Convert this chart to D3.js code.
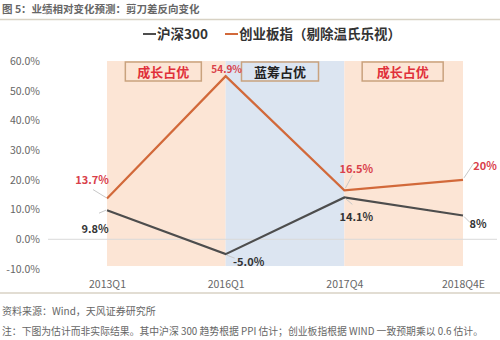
<!DOCTYPE html>
<html><head><meta charset="utf-8">
<script src="https://cdn.jsdelivr.net/npm/d3@7/dist/d3.min.js"></script>
<style>
body{margin:0;background:#fff;}
svg{font-family:"Noto Sans CJK SC","Noto Sans",sans-serif;}
</style></head>
<body>
<svg id="chart" width="500" height="340"></svg>
<script>
const categories = ["2013Q1","2016Q1","2017Q4","2018Q4E"];
const hs300 = [9.8, -5.0, 14.1, 8];
const cyb = [13.7, 54.9, 16.5, 20];
const hs300Labels = ["9.8%","-5.0%","14.1%","8%"];
const cybLabels = ["13.7%","54.9%","16.5%","20%"];
const yTicks = [-10,0,10,20,30,40,50,60];
const regionNames = ["成长占优","蓝筹占优","成长占优"];
const regionTypes = ["growth","blue","growth"];
const seriesNames = ["沪深300","创业板指（剔除温氏乐视）"];
const titleText = "图 5：业绩相对变化预测：剪刀差反向变化";
const sourceText = "资料来源：Wind，天风证券研究所";
const noteText = "注：下图为估计而非实际结果。其中沪深 300 趋势根据 PPI 估计；创业板指根据 WIND 一致预期乘以 0.6 估计。";

const svg = d3.select("#chart");
const x = d3.scalePoint().domain(categories).range([107,463]);
const y = d3.scaleLinear().domain([-10,60]).range([269,61]);
const ORANGE = "#D2693A", DARK = "#4d4d4d";

// title
svg.append("text").attr("x",2).attr("y",13).attr("font-size",10.5).attr("font-weight","bold")
  .attr("fill","#666").text(titleText);
svg.append("line").attr("x1",0).attr("x2",500).attr("y1",19.5).attr("y2",19.5)
  .attr("stroke","#d8d2c4").attr("stroke-width",1.5);

// shaded regions
const regions = regionTypes.map((t,i)=>({t, name:regionNames[i], a:categories[i], b:categories[i+1]}));
svg.append("g").selectAll("rect").data(regions).join("rect")
  .attr("x",d=>x(d.a)).attr("width",d=>x(d.b)-x(d.a))
  .attr("y",y(60)).attr("height",y(-9)-y(60))
  .attr("fill",d=>d.t==="growth"?"#FCE5D5":"#DCE5F1");

// y axis labels
const yAxis = d3.axisLeft(y).tickValues(yTicks).tickFormat(d=>d.toFixed(1)+"%").tickSize(0).tickPadding(0);
const ya = svg.append("g").attr("transform","translate(40,0)").call(yAxis);
ya.select(".domain").remove();
ya.selectAll("text").attr("font-size",10.5).attr("fill","#666").attr("font-family","'Noto Sans CJK SC',sans-serif");

// zero line
svg.append("line").attr("x1",48).attr("x2",497).attr("y1",y(0)).attr("y2",y(0))
  .attr("stroke","#d9d9d9").attr("stroke-width",1);

// x axis labels
const xAxis = d3.axisBottom(x).tickSize(0).tickPadding(0);
const xa = svg.append("g").attr("transform","translate(0,281)").call(xAxis);
xa.select(".domain").remove();
xa.selectAll("text").attr("font-size",10.5).attr("fill","#666").attr("font-family","'Noto Sans CJK SC',sans-serif");

// region boxes
const boxW = [76,77,81];
const boxShift = [-3,-5,-1];
svg.append("g").selectAll("g").data(regions).join("g").each(function(d,i){
  const cx = (x(d.a)+x(d.b))/2 + boxShift[i];
  const g = d3.select(this);
  g.append("rect").attr("x",cx-boxW[i]/2).attr("y",62).attr("width",boxW[i]).attr("height",19)
    .attr("fill",d.t==="growth"?"#FCE5D5":"#DCE5F1").attr("stroke","#C9A27E").attr("stroke-width",1.5);
  g.append("text").attr("x",cx).attr("y",76.5).attr("text-anchor","middle").attr("font-size",13)
    .attr("font-weight","bold").attr("fill",d.t==="growth"?"#E0303A":"#222").text(d.name);
});

// lines
const line = d3.line().x((d,i)=>x(categories[i])).y(d=>y(d));
svg.append("path").datum(hs300).attr("d",line).attr("fill","none").attr("stroke",DARK).attr("stroke-width",2.2);
svg.append("path").datum(cyb).attr("d",line).attr("fill","none").attr("stroke",ORANGE).attr("stroke-width",2.2);

// data labels: offsets are styling
const cybOff = [[-15,-19],[1,-7],[12,-21],[22,-14]];
const hsOff = [[-12,19],[23,8],[12,20],[15,8]];
const cybLead = [[[-14,-9],[-1,-1]],null,[[8,-15],[1,-2]],[[11,-17],[1,-2]]];
const hsLead = [[[-8,3],[-1,0]],[[9,4],[1,1]],[[8,7],[1,1]],[[7,7],[1,1]]];
function labels(vals, txts, off, lead, color){
  vals.forEach((v,i)=>{
    const px = x(categories[i]), py = y(v);
    if(lead[i]){
      svg.append("line").attr("x1",px+lead[i][1][0]).attr("y1",py+lead[i][1][1])
        .attr("x2",px+lead[i][0][0]).attr("y2",py+lead[i][0][1])
        .attr("stroke","#c8c8c8").attr("stroke-width",1);
    }
    svg.append("text").attr("x",px+off[i][0]).attr("y",py+off[i][1]+4)
      .attr("text-anchor","middle").attr("font-size",i===1&&color!=="#333"?10:11).attr("font-weight","bold")
      .attr("fill",color).text(txts[i]);
  });
}
labels(cyb, cybLabels, cybOff, cybLead, "#D9404A");
labels(hs300, hs300Labels, hsOff, hsLead, "#333");

// legend
const lg = svg.append("g");
lg.append("line").attr("x1",143).attr("x2",156).attr("y1",34).attr("y2",34).attr("stroke",DARK).attr("stroke-width",2);
lg.append("text").attr("x",157).attr("y",39).attr("font-size",13.5).attr("font-weight","bold").attr("fill","#333").text(seriesNames[0]);
lg.append("line").attr("x1",225).attr("x2",238).attr("y1",34).attr("y2",34).attr("stroke",ORANGE).attr("stroke-width",2);
lg.append("text").attr("x",239).attr("y",39).attr("font-size",13.5).attr("font-weight","bold").attr("fill","#333").text(seriesNames[1]);

// footer
svg.append("line").attr("x1",0).attr("x2",500).attr("y1",293).attr("y2",293)
  .attr("stroke","#d8d2c4").attr("stroke-width",1.5);
svg.append("text").attr("x",2).attr("y",315).attr("font-size",10).attr("fill","#666").text(sourceText);
svg.append("text").attr("x",2).attr("y",335).attr("font-size",10).attr("fill","#666")
  .attr("textLength",481).attr("lengthAdjust","spacingAndGlyphs").text(noteText);
</script>
</body></html>
